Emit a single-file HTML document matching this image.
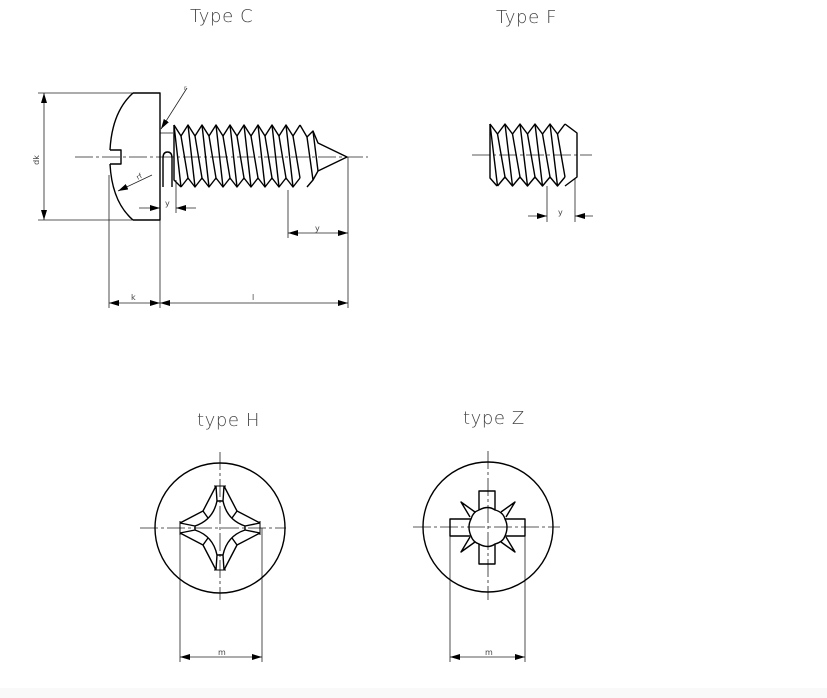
<!DOCTYPE html>
<html><head><meta charset="utf-8"><style>
html,body{margin:0;padding:0;background:#fff;width:827px;height:698px;overflow:hidden}
svg{display:block}
text{font-family:"DejaVu Sans","Liberation Sans",sans-serif;fill:#444}
</style></head><body>
<svg id="s" width="827" height="698" viewBox="0 0 827 698">
<defs>
<marker id="a" viewBox="0 0 10 6" refX="10" refY="3" markerWidth="10" markerHeight="6" orient="auto-start-reverse" markerUnits="userSpaceOnUse"><path d="M0,0L10,3L0,6z" fill="#000"/></marker>
</defs>
<rect x="0" y="688" width="827" height="10" fill="#f9f9f9"/>
<g font-size="18" font-weight="300" letter-spacing="0.6">
<text x="190" y="22">Type C</text>
<text x="496" y="23">Type F</text>
<text x="197" y="426">type H</text>
<text x="463" y="424">type Z</text>
</g>
<g font-size="8">
<text x="39" y="160" transform="rotate(-90 39 160)" text-anchor="middle">dk</text>
<text x="131" y="300">k</text>
<text x="252" y="300">l</text>
<text x="165" y="206">y</text>
<text x="315" y="231">y</text>
<text x="558" y="215">y</text>
<text x="218" y="655">m</text>
<text x="485" y="655">m</text>
<text x="138" y="180" transform="rotate(-30 138 180)" font-size="7">rf</text>
<text x="184" y="90" font-size="6">r</text>
</g>
<g stroke="#222" stroke-width="0.8" fill="none" stroke-dasharray="18,3,3,3">
<line x1="75" y1="157" x2="368" y2="157"/>
<line x1="472" y1="155" x2="592" y2="155"/>
<line x1="220" y1="452" x2="220" y2="600"/>
<line x1="140" y1="528" x2="286" y2="528"/>
<line x1="488" y1="451" x2="488" y2="600"/>
<line x1="413" y1="527" x2="560" y2="527"/>
</g>
<g stroke="#222" stroke-width="0.8" fill="none">
<line x1="38" y1="93" x2="135" y2="93"/><line x1="38" y1="220" x2="135" y2="220"/>
<line x1="44" y1="93" x2="44" y2="220" marker-start="url(#a)" marker-end="url(#a)"/>
<line x1="109" y1="175" x2="109" y2="308"/><line x1="160" y1="220" x2="160" y2="308"/><line x1="348" y1="157" x2="348" y2="308"/>
<line x1="109" y1="303" x2="160" y2="303" marker-start="url(#a)" marker-end="url(#a)"/>
<line x1="160" y1="303" x2="348" y2="303" marker-start="url(#a)" marker-end="url(#a)"/>
<line x1="176" y1="180" x2="176" y2="213"/>
<line x1="139" y1="208" x2="160" y2="208" marker-end="url(#a)"/>
<line x1="196" y1="208" x2="176" y2="208" marker-end="url(#a)"/>
<line x1="288" y1="190" x2="288" y2="238"/>
<line x1="288" y1="233" x2="348" y2="233" marker-start="url(#a)" marker-end="url(#a)"/>
<line x1="160" y1="133" x2="173" y2="133"/>
<line x1="187" y1="88" x2="161" y2="129" marker-end="url(#a)"/>
<line x1="152" y1="175" x2="118" y2="191" marker-end="url(#a)"/>
<line x1="547" y1="186" x2="547" y2="222"/><line x1="575" y1="178" x2="575" y2="222"/>
<line x1="528" y1="216" x2="547" y2="216" marker-end="url(#a)"/>
<line x1="593" y1="216" x2="575" y2="216" marker-end="url(#a)"/>
<line x1="180" y1="528" x2="180" y2="662"/><line x1="262" y1="528" x2="262" y2="662"/>
<line x1="180" y1="657" x2="262" y2="657" marker-start="url(#a)" marker-end="url(#a)"/>
<line x1="450" y1="527" x2="450" y2="662"/><line x1="525" y1="527" x2="525" y2="662"/>
<line x1="450" y1="657" x2="525" y2="657" marker-start="url(#a)" marker-end="url(#a)"/>
</g>
<g id="thick" stroke="#000" stroke-width="1.4" fill="none" stroke-linejoin="round">
<path d="M133,93 H160 V220 H133"/>
<path d="M133,93 Q112,112 110,150 M110,164 Q112,202 133,220"/>
<path d="M110,150 H121 V164 H110"/>
<path d="M163,187 V158 Q163,152 167.5,152 Q172,152 172,158 V187"/>
<path d="M300,125 L307,137 L313,131 L318,143 L347,157 L318,171 L313,180 L307,187"/>
<path d="M307,137 L313,180 M313,131 L318,171"/>
<path d="M565,124 L577,133 V177 L565,186"/>
<circle cx="220" cy="528" r="65"/>
<circle cx="488" cy="527" r="65"/>
<path d="M479,510 V491 H495 V510 M479,544 V564 H495 V544 M471,519 H450 V536 H471 M505,519 H525 V536 H505"/>
<path d="M479,510 Q488,505 495,510 Q503,512 505,519 Q509,527 505,536 Q503,542 495,544 Q488,549 479,544 Q473,542 471,536 Q467,527 471,519 Q473,512 479,510"/>
<path d="M475,512 L461,502 L470,517 M501,512 L515,502 L506,517 M475,542 L461,552 L470,537 M501,542 L515,552 L506,537"/>
<path d="M216,486 L203,511 L180,523 M224,486 L237,511 L260,523 M216,570 L203,545 L180,533 M224,570 L237,545 L260,533"/>
<path d="M217,501 Q213,520 195,526 M223,501 Q227,520 245,526 M217,555 Q213,536 195,530 M223,555 Q227,536 245,530"/>
<path d="M203,511 L208,518 M237,511 L232,518 M203,545 L208,538 M237,545 L232,538"/>
<path d="M216,486 L217,501 H223 L224,486 M216,570 L217,555 H223 L224,570 M180,523 L195,526 V530 L180,533 M260,523 L245,526 V530 L260,533"/>
<path d="M214,486 H226 M214,570 H226 M180,521 V535 M260,521 V535" stroke-width="1"/>
</g>
</svg>
<script>
var s=document.getElementById('thick'),ns='http://www.w3.org/2000/svg';
function P(d){var p=document.createElementNS(ns,'path');p.setAttribute('d',d);s.appendChild(p);}
function thread(x0,n,pitch,yt,yr,yb,ybr){
 var top='M'+x0+','+yt,bot='M'+(x0+pitch/2)+','+yb,sl='';
 for(var i=0;i<n;i++){var x=x0+i*pitch;
  top+=' L'+(x+pitch/2)+','+yr+' L'+(x+pitch)+','+yt;
  if(i<n-1)bot+=' L'+(x+pitch)+','+ybr+' L'+(x+pitch*1.5)+','+yb;
  sl+=' M'+x+','+yt+' L'+(x+pitch/2)+','+yb+' M'+(x+pitch/2)+','+yr+' L'+(x+pitch)+','+ybr;}
 bot+=' L'+(x0+n*pitch)+','+ybr;
 P(top);P(bot);P(sl);
}
thread(174,9,14,125,136,187,178);
P('M174,125 V180 L181,187');
thread(490,5,15,124,134,186,177);
P('M490,124 V178 L497,186');
</script>
</body></html>
